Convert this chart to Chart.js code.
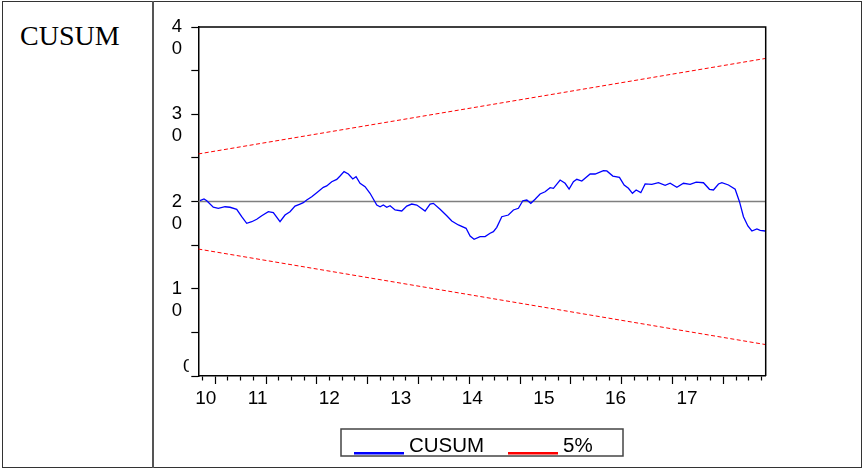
<!DOCTYPE html>
<html>
<head>
<meta charset="utf-8">
<script src="https://cdn.jsdelivr.net/npm/chart.js@4/dist/chart.umd.min.js"></script>
<style>
  html, body { margin: 0; padding: 0; background: #fff; }
  #page { position: relative; width: 863px; height: 470px; overflow: hidden; }
  #outer { position: absolute; left: 2px; top: 1px; width: 860px; height: 467px; box-sizing: border-box; border: 1px solid #333; }
  #divider { position: absolute; left: 152px; top: 1px; width: 2px; height: 467px; background: #555; }
  #title { position: absolute; left: 20px; top: 22px; font: 28px "Liberation Serif", "Times New Roman", serif; line-height: 28px; color: #000; }
  #c { position: absolute; left: 0; top: 0; }
</style>
</head>
<body>
<div id="page">
  <div id="outer"></div>
  <div id="divider"></div>
  <div id="title">CUSUM</div>
  <canvas id="c" width="863" height="470"></canvas>
</div>
<script>
// CUSUM path: month index of each reading and its value
const cusumMonth = [
  -3.6, -2.65, -2.0, -0.46, 0.72, 2.31, 3.49, 5.07, 6.25, 7.43,
  8.62, 9.8, 10.98, 12.54, 13.72, 15.3, 16.48, 17.66, 18.84, 20.03,
  20.8, 21.61, 22.79, 23.97, 25.53, 26.33, 27.51, 28.7, 29.48, 30.42,
  31.44, 32.48, 33.26, 34.2, 35.38, 36.56, 38.15, 38.93, 39.7, 40.51,
  41.29, 42.47, 44.05, 45.23, 46.41, 47.6, 49.56, 50.74, 51.52, 53.1,
  54.68, 55.86, 57.42, 59.24, 60.19, 61.13, 62.55, 63.73, 64.91, 65.69,
  66.49, 67.67, 69.23, 70.42, 71.6, 72.64, 73.58, 74.53, 75.54, 76.72,
  77.9, 79.09, 79.87, 81.45, 82.63, 83.57, 84.59, 85.39, 86.57, 88.54,
  89.72, 91.68, 92.48, 93.9, 95.46, 96.57, 97.58, 98.53, 99.4, 100.51,
  101.53, 103.11, 104.67, 106.25, 107.43, 109.02, 110.58, 112.16, 113.58, 115.3,
  116.72, 117.66, 118.85, 119.65, 121.21, 122.79, 123.81, 124.75, 125.79, 126.74,
  127.92, 128.7, 129.88
];
const cusumValue = [
  20.09, 20.29, 20.09, 19.34, 19.22, 19.40, 19.34, 19.11, 18.26, 17.50,
  17.68, 17.96, 18.37, 18.83, 18.72, 17.68, 18.45, 18.83, 19.48, 19.71,
  19.86, 20.17, 20.55, 21.01, 21.63, 21.78, 22.27, 22.54, 22.92, 23.42,
  23.15, 22.58, 22.84, 22.09, 21.70, 20.94, 19.60, 19.40, 19.60, 19.34,
  19.52, 19.03, 18.91, 19.48, 19.71, 19.60, 18.91, 19.71, 19.79, 19.11,
  18.37, 17.77, 17.31, 16.93, 16.05, 15.67, 15.97, 15.97, 16.36, 16.54,
  17.04, 18.26, 18.45, 19.03, 19.22, 20.09, 20.17, 19.79, 20.25, 20.86,
  21.12, 21.58, 21.51, 22.46, 22.09, 21.43, 22.27, 22.54, 22.35, 23.15,
  23.15, 23.53, 23.50, 22.92, 22.77, 21.89, 21.51, 20.94, 21.32, 21.01,
  22.01, 21.97, 22.15, 21.86, 22.09, 21.63, 22.09, 21.97, 22.23, 22.15,
  21.40, 21.32, 22.01, 22.15, 21.89, 21.40, 19.98, 18.26, 17.19, 16.62,
  16.85, 16.70, 16.62
];

// 5% significance bands (straight lines between the sample ends)
const bandMonth = [-4, 130];
const upperBand = [25.45, 36.4];
const lowerBand = [14.55, 3.6];
const centerValue = 20;

// axis ranges and labels
const monthRange = [-4, 130];
const valueRange = [0, 40];
const yearRange = [10.17, 18.1];
const yearValues = [10, 11, 12, 13, 14, 15, 16, 17];
const yearLabels = ['10', '11', '12', '13', '14', '15', '16', '17'];

const toPoints = (xs, ys) => xs.map((x, i) => ({ x: x, y: ys[i] }));

const SANS = '"Liberation Sans", Arial, sans-serif';

const decorations = {
  id: 'decorations',
  afterDatasetsDraw(chart) {
    const { ctx, chartArea: a } = chart;
    // close the plot frame on the top and right
    ctx.save();
    ctx.strokeStyle = '#000';
    ctx.lineWidth = 1.5;
    ctx.beginPath();
    ctx.moveTo(a.left, a.top);
    ctx.lineTo(a.right, a.top);
    ctx.lineTo(a.right, a.bottom);
    ctx.stroke();
    ctx.restore();
  },
  afterDraw(chart) {
    const { ctx, chartArea: a, scales } = chart;

    // value labels, one digit per line
    ctx.save();
    ctx.beginPath();
    ctx.rect(0, 0, a.left - 9.5, chart.height);
    ctx.clip();
    ctx.fillStyle = '#000';
    ctx.font = '18.5px ' + SANS;
    ctx.textBaseline = 'middle';
    scales.y.ticks.forEach(t => {
      if (t.value % 10 !== 0) return;
      const y = scales.y.getPixelForValue(t.value);
      const lines = String(t.value).split('');
      if (lines.length === 1) {
        ctx.textAlign = 'left';
        ctx.fillText(lines[0], a.left - 15.3, y - 9);
      } else {
        ctx.textAlign = 'right';
        lines.forEach((s, i) => ctx.fillText(s, a.left - 16.3, y + i * 22));
      }
    });
    ctx.restore();

    // year labels
    ctx.save();
    ctx.fillStyle = '#000';
    ctx.font = '19px ' + SANS;
    ctx.textBaseline = 'alphabetic';
    ctx.textAlign = 'left';
    yearValues.forEach((v, i) => {
      const txt = yearLabels[i];
      const w = ctx.measureText(txt).width;
      const cx = scales.yr.getPixelForValue(v);
      const left = Math.max(cx - w / 2, a.left - 3);
      ctx.fillText(txt, left, a.bottom + 27.5);
    });
    ctx.restore();

    // legend box
    const seen = new Set();
    const items = [];
    chart.data.datasets.forEach(ds => {
      if (!ds.label || seen.has(ds.label)) return;
      seen.add(ds.label);
      items.push({ label: ds.label, color: ds.borderColor });
    });
    const boxW = 282, boxH = 27;
    const bx = (a.left + a.right) / 2 - boxW / 2;
    const by = 429;
    ctx.save();
    ctx.strokeStyle = '#444';
    ctx.lineWidth = 1.5;
    ctx.strokeRect(bx, by, boxW, boxH);
    ctx.font = '20.5px ' + SANS;
    ctx.textBaseline = 'alphabetic';
    ctx.textAlign = 'left';
    items.forEach((it, i) => {
      const x0 = bx + 13 + i * 154;
      ctx.strokeStyle = it.color;
      ctx.lineWidth = 2.5;
      ctx.beginPath();
      ctx.moveTo(x0, by + 24.3);
      ctx.lineTo(x0 + 50, by + 24.3);
      ctx.stroke();
      ctx.fillStyle = '#000';
      ctx.fillText(it.label, x0 + 55, by + 22.7);
    });
    ctx.restore();
  }
};

new Chart(document.getElementById('c'), {
  type: 'line',
  data: {
    datasets: [
      { label: 'CUSUM', data: toPoints(cusumMonth, cusumValue), borderColor: '#0000ff', borderWidth: 1.3, pointRadius: 0, tension: 0 },
      { label: '5%', data: toPoints(bandMonth, upperBand), borderColor: '#ff0000', borderWidth: 1, borderDash: [4, 2.5], pointRadius: 0 },
      { label: '5%', data: toPoints(bandMonth, lowerBand), borderColor: '#ff0000', borderWidth: 1, borderDash: [4, 2.5], pointRadius: 0 },
      { data: toPoints(bandMonth, [centerValue, centerValue]), borderColor: '#7f7f7f', borderWidth: 1.6, pointRadius: 0 }
    ]
  },
  options: {
    responsive: false,
    animation: false,
    devicePixelRatio: 1,
    layout: { padding: { left: 0, top: 27, right: 97.3, bottom: 0 } },
    plugins: { legend: { display: false }, tooltip: { enabled: false } },
    scales: {
      x: {
        type: 'linear', min: monthRange[0], max: monthRange[1],
        ticks: { display: false, stepSize: 3, includeBounds: false },
        grid: {
          drawOnChartArea: false, tickLength: 8, tickColor: '#000', tickWidth: 1.2,
          tickBorderDash: c => (c.tick && c.tick.value % 12 === 0) ? [] : [4, 20]
        },
        border: { color: '#000', width: 1.5 },
        afterFit: s => { s.height = 94; }
      },
      yr: { type: 'linear', axis: 'x', position: 'bottom', display: false, min: yearRange[0], max: yearRange[1] },
      y: {
        min: valueRange[0], max: valueRange[1],
        ticks: { display: false, stepSize: 5 },
        grid: { drawOnChartArea: false, tickLength: 7, tickColor: '#000', tickWidth: 1.2 },
        border: { color: '#000', width: 1.5 },
        afterFit: s => { s.width = 198.3; }
      }
    }
  },
  plugins: [decorations]
});
</script>
</body>
</html>
